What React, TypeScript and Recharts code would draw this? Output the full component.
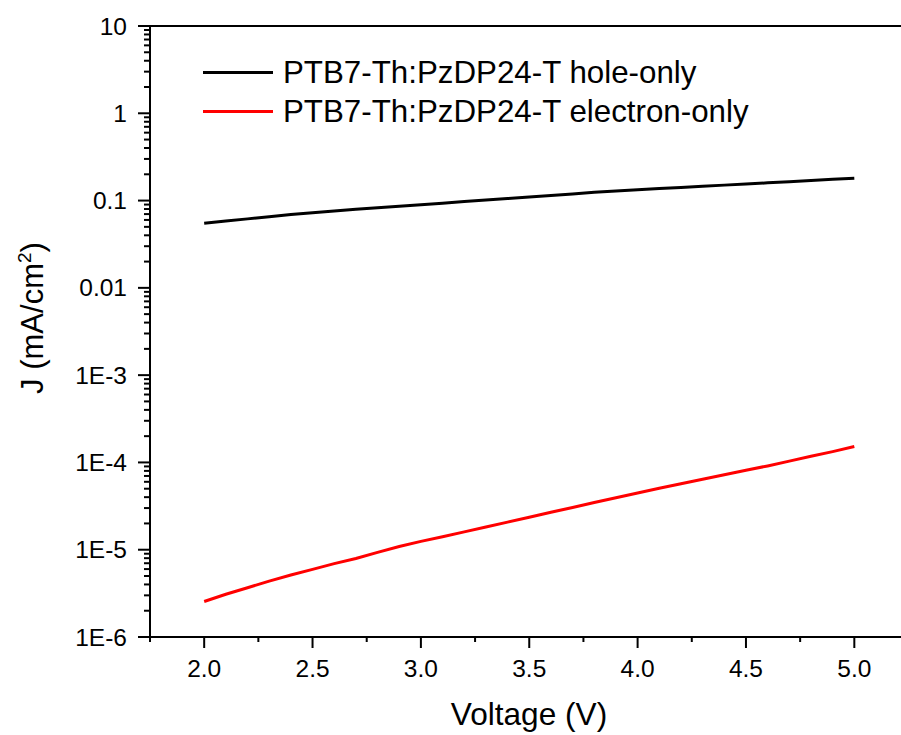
import { LineChart, Line, XAxis, YAxis, ReferenceLine } from "recharts";

const FONT = '"Liberation Sans", Arial, Helvetica, sans-serif';

// voltage sweep (V)
const voltage = [
  2.0, 2.1, 2.2, 2.3, 2.4, 2.5, 2.6, 2.7, 2.8, 2.9, 3.0, 3.1, 3.2, 3.3, 3.4, 3.5,
  3.6, 3.7, 3.8, 3.9, 4.0, 4.1, 4.2, 4.3, 4.4, 4.5, 4.6, 4.7, 4.8, 4.9, 5.0,
];

// J (mA/cm2), hole-only device
const holeOnly = [
  0.055, 0.0582, 0.0617, 0.0652, 0.0692, 0.0726, 0.0759, 0.0793, 0.0826, 0.0861,
  0.0897, 0.0933, 0.0973, 0.1012, 0.1054, 0.1096, 0.114, 0.1186, 0.1245, 0.1288,
  0.133, 0.1374, 0.1416, 0.1459, 0.1503, 0.1549, 0.1596, 0.1644, 0.1694, 0.175, 0.1807,
];

// J (mA/cm2), electron-only device
const electronOnly = [
  2.55e-6, 3.09e-6, 3.67e-6, 4.37e-6, 5.13e-6, 5.96e-6, 6.92e-6, 7.94e-6, 9.33e-6,
  1.09e-5, 1.245e-5, 1.41e-5, 1.6e-5, 1.82e-5, 2.07e-5, 2.36e-5, 2.69e-5, 3.05e-5,
  3.47e-5, 3.94e-5, 4.47e-5, 5.06e-5, 5.7e-5, 6.43e-5, 7.24e-5, 8.13e-5, 9.12e-5,
  1.035e-4, 1.175e-4, 1.33e-4, 1.52e-4,
];

const seriesNames = ["PTB7-Th:PzDP24-T hole-only", "PTB7-Th:PzDP24-T electron-only"];
const seriesColors = ["#000000", "#ff0000"];

const xTicks = [1.75, 2.0, 2.25, 2.5, 2.75, 3.0, 3.25, 3.5, 3.75, 4.0, 4.25, 4.5, 4.75, 5.0, 5.25];
const xMajor = [2.0, 2.5, 3.0, 3.5, 4.0, 4.5, 5.0];

const yDecades = [1e-6, 1e-5, 1e-4, 1e-3, 1e-2, 1e-1, 1, 10];
const yDecadeLabels = ["1E-6", "1E-5", "1E-4", "1E-3", "0.01", "0.1", "1", "10"];
const yMinorFactors = [2, 3, 4, 5, 6, 7, 8, 9];

const data = voltage.map((v, i) => ({ v, hole: holeOnly[i], electron: electronOnly[i] }));

const yTicks = [
  ...yDecades,
  ...yDecades.slice(0, -1).flatMap((d) => yMinorFactors.map((f) => f * d)),
].sort((a, b) => a - b);

function XTick({ x, y, payload }: any) {
  const v = payload.value;
  const major = xMajor.some((m) => Math.abs(m - v) < 1e-9);
  return (
    <g>
      <line x1={x} y1={y} x2={x} y2={y + (major ? 11 : 5)} stroke="#000" strokeWidth={2} />
      {major && (
        <text x={x} y={y + 40} textAnchor="middle" fontSize={24.5} fontFamily={FONT} fill="#000">
          {v.toFixed(1)}
        </text>
      )}
    </g>
  );
}

function YTick({ x, y, payload }: any) {
  const v = payload.value;
  const idx = yDecades.findIndex((d) => Math.abs(Math.log10(d) - Math.log10(v)) < 1e-6);
  const major = idx >= 0;
  return (
    <g>
      <line x1={x - (major ? 12 : 6)} y1={y} x2={x} y2={y} stroke="#000" strokeWidth={2} />
      {major && (
        <text x={x - 23} y={y + 8.5} textAnchor="end" fontSize={24.5} fontFamily={FONT} fill="#000">
          {yDecadeLabels[idx]}
        </text>
      )}
    </g>
  );
}

// legend sits inside the plot frame, top-left
function LegendBox() {
  return (
    <div style={{ position: "absolute", left: 203, top: 52.5, fontFamily: FONT }}>
      {seriesNames.map((name, i) => (
        <div key={name} style={{ display: "flex", alignItems: "center", height: 39 }}>
          <div style={{ width: 70, height: 3, background: seriesColors[i], marginRight: 10 }} />
          <span style={{ fontSize: 31.3, lineHeight: "39px", color: "#000", whiteSpace: "nowrap" }}>
            {name}
          </span>
        </div>
      ))}
    </div>
  );
}

export default function App() {
  return (
    <div
      style={{
        position: "absolute",
        left: 0,
        top: 0,
        width: 901,
        height: 735,
        overflow: "hidden",
        background: "#fff",
        fontFamily: FONT,
      }}
    >
      <LineChart
        width={960}
        height={735}
        data={data}
        margin={{ top: 26, right: 51.5, bottom: 38, left: 0 }}
      >
        <XAxis
          dataKey="v"
          type="number"
          domain={[1.75, 5.25]}
          allowDataOverflow
          ticks={xTicks}
          interval={0}
          tick={<XTick />}
          tickLine={false}
          tickSize={0}
          tickMargin={0}
          height={60}
          axisLine={{ stroke: "#000", strokeWidth: 2 }}
          label={{
            content: () => (
              <text x={529} y={725} textAnchor="middle" fontSize={31.6} fontFamily={FONT} fill="#000">
                Voltage (V)
              </text>
            ),
          }}
        />
        <YAxis
          scale="log"
          domain={[1e-6, 10]}
          allowDataOverflow
          ticks={yTicks}
          interval={0}
          tick={<YTick />}
          tickLine={false}
          tickSize={0}
          tickMargin={0}
          width={150}
          axisLine={{ stroke: "#000", strokeWidth: 2 }}
          label={{
            content: () => (
              <text
                x={43}
                y={318}
                transform="rotate(-90, 43, 318)"
                textAnchor="middle"
                fontSize={31}
                fontFamily={FONT}
                fill="#000"
              >
                J (mA/cm
                <tspan dy={-12} fontSize={19}>
                  2
                </tspan>
                <tspan dy={12}>)</tspan>
              </text>
            ),
          }}
        />
        <ReferenceLine y={10} stroke="#000" strokeWidth={2} />
        <Line
          type="linear"
          dataKey="hole"
          name={seriesNames[0]}
          stroke={seriesColors[0]}
          strokeWidth={3}
          dot={false}
          isAnimationActive={false}
        />
        <Line
          type="linear"
          dataKey="electron"
          name={seriesNames[1]}
          stroke={seriesColors[1]}
          strokeWidth={3}
          dot={false}
          isAnimationActive={false}
        />
      </LineChart>
      <LegendBox />
    </div>
  );
}
